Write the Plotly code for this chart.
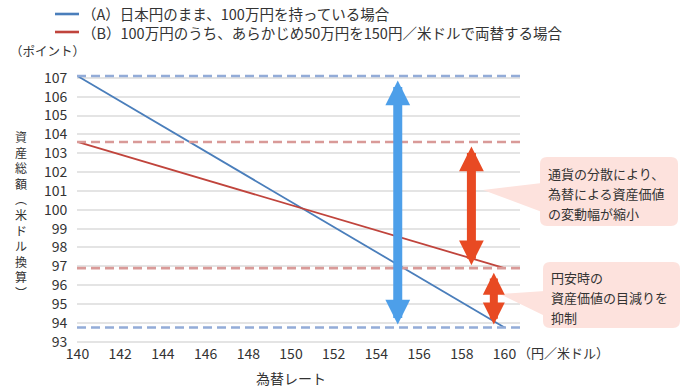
import plotly.graph_objects as go

# ---------------- data ----------------
rate = [140, 160]                       # 為替レート (円/米ドル)
series_a = [107.1, 93.75]               # (A) 日本円のまま
series_b = [103.6, 96.9]                # (B) 50万円を両替
name_a = "（A）日本円のまま、100万円を持っている場合"
name_b = "（B）100万円のうち、あらかじめ50万円を150円／米ドルで両替する場合"
y_ticks = list(range(93, 108))
x_ticks = list(range(140, 161, 2))
blue_arrow_x = 155
red_arrow1_x = 158.45
red_arrow2_x = 159.5
callout1 = ["通貨の分散により、", "為替による資産価値", "の変動幅が縮小"]
callout2 = ["円安時の", "資産価値の目減りを", "抑制"]
y_title = "資産総額︵米ドル換算︶"
y_unit = "（ポイント）"
x_unit = "（円／米ドル）"
x_title = "為替レート"

# ---------------- style ----------------
FONT = "Noto Sans CJK JP, Noto Sans, sans-serif"
TXT = "#333333"
C_A = "#4a7ebb"
C_B = "#c0443c"
C_A_DASH = "#93acd8"
C_B_DASH = "#d99a98"
C_BLUE_ARROW = "#4d9fe9"
C_RED_ARROW = "#e84a23"
C_BOX = "#fde2dd"

W, H = 680, 390
L, R, T, B = 77, 160, 74, 46
PW, PH = W - L - R, H - T - B


def px_x(px):
    return (px - L) / PW


def px_y(py):
    return (H - B - py) / PH


fig = go.Figure()
fig.add_trace(go.Scatter(x=rate, y=series_a, mode="lines", name=name_a, showlegend=False,
                         line=dict(color=C_A, width=1.8)))
fig.add_trace(go.Scatter(x=rate, y=series_b, mode="lines", name=name_b, showlegend=False,
                         line=dict(color=C_B, width=1.8)))

shapes = []
annotations = []

# legend (drawn manually so it does not push the plot margins)
for (nm, col), ly in zip([(name_a, C_A), (name_b, C_B)], [14, 32]):
    shapes.append(dict(type="line", xref="paper", yref="paper", x0=px_x(55), x1=px_x(79),
                       y0=px_y(ly), y1=px_y(ly), line=dict(color=col, width=2.6)))
    annotations.append(dict(text=nm, xref="paper", yref="paper", x=px_x(80), y=px_y(ly),
                            xanchor="left", yanchor="middle", showarrow=False,
                            font=dict(size=14.5, color=TXT, family=FONT)))

# dashed reference lines at the end values
for val, col in [(series_a[0], C_A_DASH), (series_a[1], C_A_DASH),
                 (series_b[0], C_B_DASH), (series_b[1], C_B_DASH)]:
    shapes.append(dict(type="line", xref="paper", yref="y", x0=0, x1=1,
                       y0=val, y1=val, line=dict(color=col, width=2.6, dash="9px,5px")))


def rounded_rect(x0, y0, x1, y1, r):
    p = lambda a, b: f"{px_x(a):.5f},{px_y(b):.5f}"
    return (f"M{p(x0 + r, y0)} L{p(x1 - r, y0)} Q{p(x1, y0)} {p(x1, y0 + r)} "
            f"L{p(x1, y1 - r)} Q{p(x1, y1)} {p(x1 - r, y1)} L{p(x0 + r, y1)} "
            f"Q{p(x0, y1)} {p(x0, y1 - r)} L{p(x0, y0 + r)} Q{p(x0, y0)} {p(x0 + r, y0)} Z")


def tri(pts):
    return "M" + " L".join(f"{px_x(a):.5f},{px_y(b):.5f}" for a, b in pts) + " Z"


for path in [rounded_rect(540, 157, 678, 226, 7), rounded_rect(543, 262, 680, 328, 7),
             tri([(483, 190), (542, 183), (542, 212)]),
             tri([(500, 294), (545, 291), (545, 316)])]:
    shapes.append(dict(type="path", xref="paper", yref="paper", path=path,
                       fillcolor=C_BOX, line=dict(width=0), layer="above"))

# double-headed arrows
for xa, y_from, y_to, col, w in [
        (blue_arrow_x, series_a[0], series_a[1], C_BLUE_ARROW, 9),
        (red_arrow1_x, series_b[0], series_b[1], C_RED_ARROW, 9),
        (red_arrow2_x, series_b[1], series_a[1], C_RED_ARROW, 8)]:
    annotations.append(dict(x=xa, y=y_to, ax=xa, ay=y_from, xref="x", yref="y",
                            axref="x", ayref="y", text="", showarrow=True,
                            arrowside="end+start", arrowhead=2, startarrowhead=2,
                            arrowsize=0.55, startarrowsize=0.55, arrowwidth=w,
                            arrowcolor=col, standoff=3, startstandoff=3))

# callout texts
for lines, x0, y0 in [(callout1, 546, 173), (callout2, 549, 277)]:
    for i, t in enumerate(lines):
        annotations.append(dict(text=t, xref="paper", yref="paper", x=px_x(x0),
                                y=px_y(y0 + 20 * i), xanchor="left", yanchor="middle",
                                showarrow=False, font=dict(size=13, color=TXT, family=FONT)))

# vertical y-axis title (one character per line)
annotations.append(dict(text="<br>".join(y_title), xref="paper", yref="paper", x=px_x(21),
                        y=px_y(215), xanchor="center", yanchor="middle", showarrow=False,
                        align="center", font=dict(size=12, color=TXT, family=FONT)))

annotations.append(dict(text=y_unit, xref="paper", yref="paper", x=px_x(8), y=px_y(50),
                        xanchor="left", yanchor="middle", showarrow=False,
                        font=dict(size=12.5, color=TXT, family=FONT)))
annotations.append(dict(text=x_unit, xref="paper", yref="paper", x=px_x(516), y=px_y(352),
                        xanchor="left", yanchor="middle", showarrow=False,
                        font=dict(size=13, color=TXT, family=FONT)))
annotations.append(dict(text=x_title, xref="x", yref="paper", x=150, y=px_y(378),
                        xanchor="center", yanchor="middle", showarrow=False,
                        font=dict(size=14, color=TXT, family=FONT)))

px_per_x = 21.35
px_per_y = 18.84
x_start = rate[0] - 0.5 / px_per_x
x_end = x_start + PW / px_per_x
y_top = series_a[0] + 2 / px_per_y
y_bot = y_top - PH / px_per_y

fig.update_layout(
    width=W, height=H,
    margin=dict(l=L, r=R, t=T, b=B, pad=0),
    paper_bgcolor="white", plot_bgcolor="white",
    font=dict(family=FONT, color=TXT, size=14),
    showlegend=False,
    xaxis=dict(range=[x_start, x_end], tickvals=x_ticks, showgrid=False, zeroline=False,
               showline=False, ticks="", tickfont=dict(size=14, color=TXT, family=FONT)),
    yaxis=dict(range=[y_bot, y_top], tickvals=y_ticks, showgrid=True, gridcolor="#e4e4e4",
               gridwidth=2, zeroline=False, showline=False, ticks="outside", ticklen=6,
               tickcolor="rgba(0,0,0,0)", tickfont=dict(size=14, color=TXT, family=FONT)),
    shapes=shapes,
    annotations=annotations,
)

fig.write_html("out.html", config={"displayModeBar": False},
               post_script="document.body.style.margin='0';document.body.style.padding='0';")
